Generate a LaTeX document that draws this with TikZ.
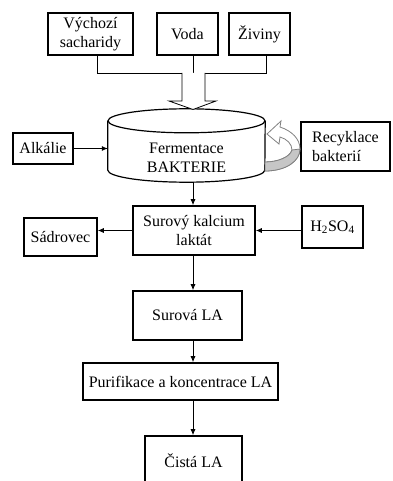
\documentclass[tikz,border=0pt]{standalone}
\usepackage{fontspec}
\setmainfont{Liberation Serif}
\newfontfamily\boxfont{Liberation Serif}
\usetikzlibrary{arrows.meta}
\tikzset{
  box/.style={draw, line width=1.6pt, align=center, inner sep=2pt,
    font=\boxfont\fontsize{16pt}{19pt}\selectfont},
  link/.style={line width=.8pt},
  bigarrow/.style={line width=.8pt, fill=white},
  recycle/.style={draw=gray, line width=.8pt},
}
\begin{document}
\begin{tikzpicture}[x=1pt, y=-1pt, >={Latex[length=6pt,width=5pt]}]
\useasboundingbox (0,0) rectangle (392,481);
\node[box, minimum width=85pt, minimum height=42pt] (vychozi) at (90.5,34) {Výchozí\\sacharidy};
\node[box, minimum width=61pt, minimum height=42pt] (voda) at (187.5,34) {Voda};
\node[box, minimum width=61pt, minimum height=42pt] (ziviny) at (259.5,34) {Živiny};
\coordinate (jl) at (97,73);
\coordinate (join) at (193,73);
\coordinate (jr) at (266,73);
\draw[link] (jl |- vychozi.south) -- (jl) -- (jr) -- (jr |- ziviny.south)
  (join |- voda.south) -- (join);
\node[inner sep=0, minimum width=157pt, minimum height=49pt] (ferm) at (186.5,145.5) {};
\draw[line width=1.2pt, fill=white] (ferm.north west) -- (ferm.south west)
  arc[start angle=180, end angle=360, x radius=78.5pt, y radius=12pt] -- (ferm.north east);
\draw[line width=1.2pt, fill=white] (ferm.north) ellipse [x radius=78.5pt, y radius=12pt];
\node[font=\boxfont\fontsize{16pt}{19pt}\selectfont, align=center] (fermtxt) at ([yshift=-12.5pt]ferm.center) {Fermentace\\BAKTERIE};
\draw[bigarrow] (182,73) -- (182,101) -- (169,101) -- (193,109.5) -- (216,101) -- (205,101) -- (205,73);
\node[box, minimum width=60pt, minimum height=31pt] (alkalie) at (43,148.5) {Alkálie};
\node[box, minimum width=89pt, minimum height=49pt, align=left] (recyklace) at (345.5,146.5) {Recyklace\\bakterií};
\draw[recycle, fill=white] (265,171) .. controls (286,171) and (300,161) .. (300,149)
  .. controls (300,139) and (292,131) .. (280,127) -- (281,121) -- (267,134) -- (279,144)
  -- (280,137) .. controls (287,139) and (292,144) .. (292,150)
  .. controls (290,157) and (278,162) .. (265,162);
\draw[recycle, fill=gray!45] (265,171) .. controls (286,171) and (300,161) .. (300,149)
  -- (292,150) .. controls (290,157) and (278,162) .. (265,162) -- cycle;
\node[box, minimum width=122pt, minimum height=49pt] (surovy) at (194,230.5) {Surový kalcium\\laktát};
\node[box, minimum width=73pt, minimum height=38pt] (sadrovec) at (60.5,237) {Sádrovec};
\node[box, minimum width=61pt, minimum height=42pt] (h2so4) at (332.5,227) {H\textsubscript{2}SO\textsubscript{4}};
\node[box, minimum width=109pt, minimum height=49pt] (surova) at (187.5,315.5) {Surová LA};
\node[box, minimum width=195pt, minimum height=37pt] (purif) at (180.5,381.5) {Purifikace a koncentrace LA};
\node[box, minimum width=97pt, minimum height=50pt] (cista) at (193.5,461) {Čistá LA};
\coordinate (axis) at (193,0);
\coordinate (fermbot) at (193,182);
\draw[link, ->] (alkalie.east) -- (alkalie.east -| ferm.west);
\draw[link, ->] (fermbot) -- (fermbot |- surovy.north);
\draw[link, ->] (surovy.west) -- (surovy.west -| sadrovec.east);
\draw[link, ->] (h2so4.west |- surovy.east) -- (surovy.east);
\draw[link, ->] (axis |- surovy.south) -- (axis |- surova.north);
\draw[link, ->] (axis |- surova.south) -- (axis |- purif.north);
\draw[link, ->] (axis |- purif.south) -- (axis |- cista.north);
\end{tikzpicture}
\end{document}
